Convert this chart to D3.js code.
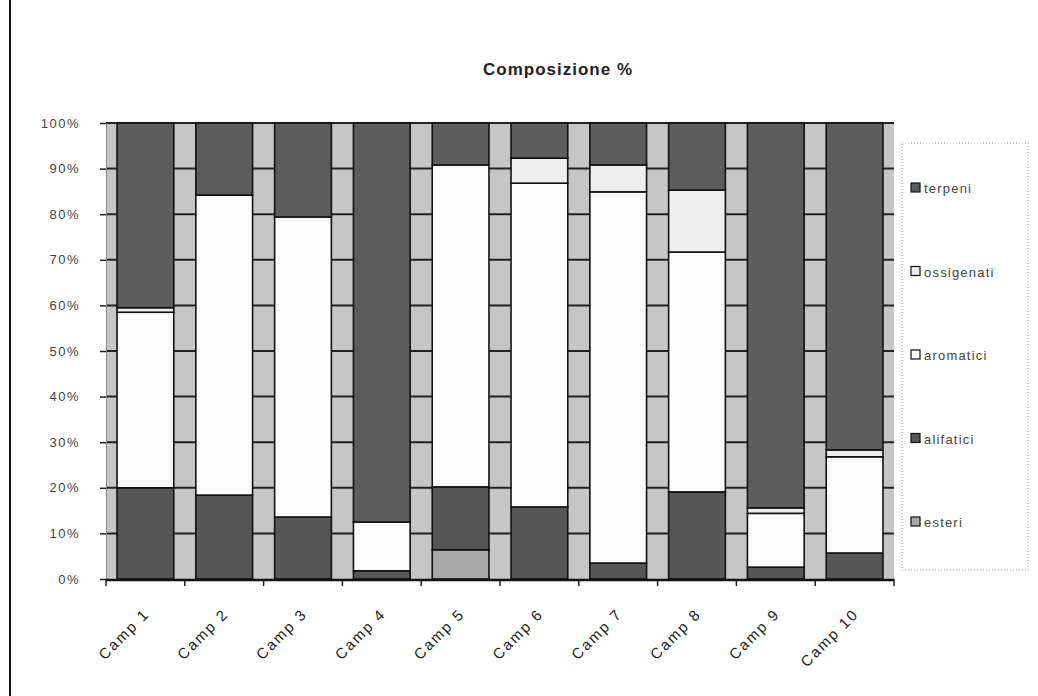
<!DOCTYPE html>
<html>
<head>
<meta charset="utf-8">
<script src="https://cdn.jsdelivr.net/npm/d3@7"></script>
<style>
  body { margin: 0; background: #fff; }
  svg { display: block; font-family: Arial, "Liberation Sans", sans-serif; }
</style>
</head>
<body>
<svg id="chart"></svg>
<script>
// Data (percent of each sample)
const categories = ["Camp 1", "Camp 2", "Camp 3", "Camp 4", "Camp 5",
                    "Camp 6", "Camp 7", "Camp 8", "Camp 9", "Camp 10"];
const esteri     = [0, 0, 0, 0, 6.4, 0, 0, 0, 0, 0];
const alifatici  = [20.0, 18.4, 13.6, 1.8, 13.8, 15.8, 3.5, 19.1, 2.6, 5.7];
const aromatici  = [38.5, 65.8, 65.8, 10.7, 70.6, 71.0, 81.4, 52.6, 11.8, 21.1];
const ossigenati = [1.0, 0, 0, 0, 0, 5.5, 5.9, 13.6, 1.2, 1.5];
const terpeni    = [40.5, 15.8, 20.6, 87.5, 9.2, 7.7, 9.2, 14.7, 84.4, 71.7];
const seriesNames = ["esteri", "alifatici", "aromatici", "ossigenati", "terpeni"];
const yTicks = [0, 10, 20, 30, 40, 50, 60, 70, 80, 90, 100];

const W = 1038, H = 696;
const svg = d3.select("#chart").attr("width", W).attr("height", H);

// page border line on the left
svg.append("line")
    .attr("x1", 10).attr("x2", 10).attr("y1", 0).attr("y2", H)
    .attr("stroke", "#111").attr("stroke-width", 2);

// plot area
const plot = { left: 106, right: 894, top: 123, bottom: 579 };

const colors = {
  esteri: "#a9a9a9",
  alifatici: "#565656",
  aromatici: "#fbfbfb",
  ossigenati: "#eeeeee",
  terpeni: "#5c5c5c"
};

const table = categories.map((c, i) => ({
  cat: c,
  esteri: esteri[i],
  alifatici: alifatici[i],
  aromatici: aromatici[i],
  ossigenati: ossigenati[i],
  terpeni: terpeni[i]
}));

const x = d3.scaleBand()
    .domain(categories)
    .range([plot.left, plot.right])
    .paddingInner(0.28)
    .paddingOuter(0.14);

const y = d3.scaleLinear().domain([0, 100]).range([plot.bottom, plot.top]);

// background
svg.append("rect")
    .attr("x", plot.left).attr("y", plot.top)
    .attr("width", plot.right - plot.left).attr("height", plot.bottom - plot.top)
    .attr("fill", "#c6c6c6");

// gridlines
svg.append("g")
    .selectAll("line")
    .data(yTicks.filter(d => d > 0))
    .join("line")
    .attr("x1", plot.left).attr("x2", plot.right)
    .attr("y1", d => y(d)).attr("y2", d => y(d))
    .attr("stroke", "#222").attr("stroke-width", 2);

// stacked bars
const stack = d3.stack().keys(seriesNames)(table);

svg.append("g")
    .selectAll("g")
    .data(stack)
    .join("g")
    .attr("fill", d => colors[d.key])
    .selectAll("rect")
    .data(d => d.filter(s => s[1] - s[0] > 0))
    .join("rect")
    .attr("x", d => x(d.data.cat))
    .attr("y", d => y(d[1]))
    .attr("width", x.bandwidth())
    .attr("height", d => y(d[0]) - y(d[1]))
    .attr("stroke", "#111")
    .attr("stroke-width", 1.6);

// y axis
const yAxis = svg.append("g")
    .attr("transform", `translate(${plot.left},0)`)
    .call(d3.axisLeft(y).tickValues(yTicks).tickFormat(d => d + "%").tickSize(6).tickPadding(20));
yAxis.select(".domain").attr("stroke", "#888");
yAxis.selectAll(".tick line").attr("stroke", "#222").attr("stroke-width", 1.5);
yAxis.selectAll("text")
    .attr("font-size", 13)
    .attr("letter-spacing", "1.5px")
    .attr("fill", "#444");

// x axis: baseline plus ticks at band boundaries
svg.append("line")
    .attr("x1", plot.left).attr("x2", plot.right)
    .attr("y1", plot.bottom + 1).attr("y2", plot.bottom + 1)
    .attr("stroke", "#111").attr("stroke-width", 2.5);

const step = x.step();
const boundaries = d3.range(categories.length + 1).map(i => plot.left + i * step);
svg.append("g")
    .selectAll("line")
    .data(boundaries)
    .join("line")
    .attr("x1", d => d).attr("x2", d => d)
    .attr("y1", plot.bottom).attr("y2", plot.bottom + 7)
    .attr("stroke", "#222").attr("stroke-width", 1.5);

svg.append("g")
    .selectAll("text")
    .data(categories)
    .join("text")
    .attr("transform", d => `translate(${x(d) + x.bandwidth() / 2 + 5},${plot.bottom + 36}) rotate(-45)`)
    .attr("text-anchor", "end")
    .attr("font-size", 15)
    .attr("letter-spacing", "2px")
    .attr("fill", "#222")
    .text(d => d);

// title
svg.append("text")
    .attr("x", 558).attr("y", 75)
    .attr("text-anchor", "middle")
    .attr("font-size", 17)
    .attr("font-weight", "bold")
    .attr("letter-spacing", "1px")
    .attr("fill", "#222")
    .text("Composizione %");

// legend
const legend = svg.append("g");
legend.append("rect")
    .attr("x", 902).attr("y", 143)
    .attr("width", 126).attr("height", 427)
    .attr("fill", "none")
    .attr("stroke", "#999").attr("stroke-dasharray", "1,2");

const legendOrder = seriesNames.slice().reverse();
const legendY = d3.scalePoint().domain(legendOrder).range([188, 522]);

const item = legend.selectAll("g.item")
    .data(legendOrder)
    .join("g")
    .attr("class", "item")
    .attr("transform", d => `translate(911,${legendY(d)})`);

item.append("rect")
    .attr("x", 0).attr("y", -5)
    .attr("width", 9).attr("height", 9)
    .attr("fill", d => colors[d])
    .attr("stroke", "#111").attr("stroke-width", 1.2);

item.append("text")
    .attr("x", 13).attr("y", 5)
    .attr("font-size", 13)
    .attr("letter-spacing", "1.2px")
    .attr("fill", "#444")
    .text(d => d);
</script>
</body>
</html>
